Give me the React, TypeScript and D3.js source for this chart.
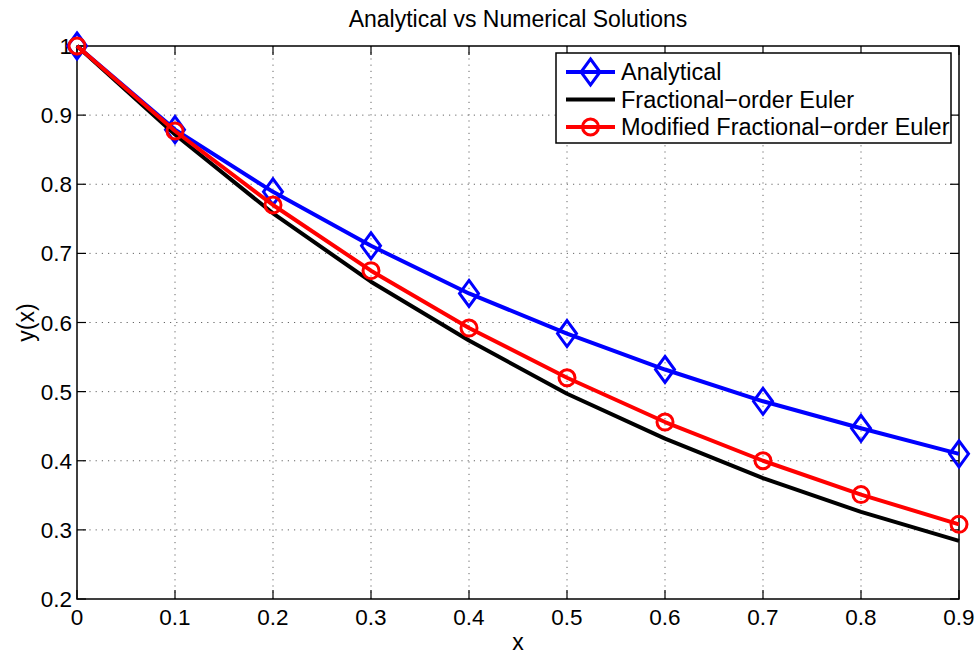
import React from 'react';
import * as d3 from 'd3';

// x positions of the solution samples
const xValues = [0, 0.1, 0.2, 0.3, 0.4, 0.5, 0.6, 0.7, 0.8, 0.9];
const analytical = [1.0, 0.879, 0.789, 0.711, 0.642, 0.584, 0.532, 0.486, 0.447, 0.41];
const fracEuler = [1.0, 0.872, 0.758, 0.659, 0.574, 0.497, 0.432, 0.375, 0.326, 0.284];
const modifiedEuler = [1.0, 0.877, 0.77, 0.675, 0.592, 0.52, 0.456, 0.4, 0.351, 0.308];

const xTicks = [0, 0.1, 0.2, 0.3, 0.4, 0.5, 0.6, 0.7, 0.8, 0.9];
const yTicks = [0.2, 0.3, 0.4, 0.5, 0.6, 0.7, 0.8, 0.9, 1];
const legendLabels = ['Analytical', 'Fractional\u2212order Euler', 'Modified Fractional\u2212order Euler'];

const W = 975;
const H = 655;
const margin = { top: 46, right: 16, bottom: 56, left: 77 };
const FONT = '"Liberation Sans", Arial, Helvetica, sans-serif';

const fmt = (v: number) => (v === 0 || v === 1 ? String(v) : v.toFixed(1));

export default function App() {
  const x = d3.scaleLinear().domain([0, 0.9]).range([margin.left, W - margin.right]);
  const y = d3.scaleLinear().domain([0.2, 1]).range([H - margin.bottom, margin.top]);
  const [x0, x1] = x.range();
  const [y0, y1] = y.range();

  const line = d3
    .line<number>()
    .x((_d, i) => x(xValues[i]))
    .y(d => y(d));

  const diamond = (cx: number, cy: number) =>
    `M${cx},${cy - 13}L${cx + 9.5},${cy}L${cx},${cy + 13}L${cx - 9.5},${cy}Z`;

  const tickLen = 9;

  return (
    <svg
      width={W}
      height={H}
      style={{ position: 'fixed', left: 0, top: 0, background: '#fff' }}
      fontFamily={FONT}
    >
      <rect x={0} y={0} width={W} height={H} fill="#fff" />

      {/* grid */}
      <g stroke="#666" strokeWidth={1} strokeDasharray="1.2,5">
        {xTicks.slice(1, -1).map(t => (
          <line key={'gx' + t} x1={x(t)} x2={x(t)} y1={y1} y2={y0} />
        ))}
        {yTicks.slice(1, -1).map(t => (
          <line key={'gy' + t} x1={x0} x2={x1} y1={y(t)} y2={y(t)} />
        ))}
      </g>

      {/* axes box and inward ticks */}
      <rect x={x0} y={y1} width={x1 - x0} height={y0 - y1} fill="none" stroke="#000" strokeWidth={1.5} />
      <g stroke="#000" strokeWidth={1.2}>
        {xTicks.map(t => (
          <g key={'tx' + t}>
            <line x1={x(t)} x2={x(t)} y1={y0} y2={y0 - tickLen} />
            <line x1={x(t)} x2={x(t)} y1={y1} y2={y1 + tickLen} />
          </g>
        ))}
        {yTicks.map(t => (
          <g key={'ty' + t}>
            <line x1={x0} x2={x0 + tickLen} y1={y(t)} y2={y(t)} />
            <line x1={x1} x2={x1 - tickLen} y1={y(t)} y2={y(t)} />
          </g>
        ))}
      </g>

      {/* tick labels */}
      <g fontSize={22.5} fill="#000">
        {xTicks.map(t => (
          <text key={'lx' + t} x={x(t)} y={y0 + 26} textAnchor="middle">
            {fmt(t)}
          </text>
        ))}
        {yTicks.map(t => (
          <text key={'ly' + t} x={x0 - 5} y={y(t) + 8} textAnchor="end">
            {fmt(t)}
          </text>
        ))}
      </g>

      {/* series */}
      <path d={line(analytical) || ''} fill="none" stroke="#0000ff" strokeWidth={4} strokeLinejoin="round" />
      {analytical.map((v, i) => (
        <path key={'a' + i} d={diamond(x(xValues[i]), y(v))} fill="none" stroke="#0000ff" strokeWidth={3} />
      ))}
      <path d={line(fracEuler) || ''} fill="none" stroke="#000" strokeWidth={4} strokeLinejoin="round" />
      <path d={line(modifiedEuler) || ''} fill="none" stroke="#ff0000" strokeWidth={4} strokeLinejoin="round" />
      {modifiedEuler.map((v, i) => (
        <circle key={'m' + i} cx={x(xValues[i])} cy={y(v)} r={8} fill="none" stroke="#ff0000" strokeWidth={3} />
      ))}

      {/* legend */}
      <g>
        <rect x={556} y={53} width={395} height={90} fill="#fff" stroke="#000" strokeWidth={1.5} />
        {legendLabels.map((label, i) => {
          const ly = 72 + i * 27.5;
          const color = i === 0 ? '#0000ff' : i === 1 ? '#000' : '#ff0000';
          return (
            <g key={label}>
              <line x1={566} x2={615} y1={ly} y2={ly} stroke={color} strokeWidth={4} />
              {i === 0 && <path d={diamond(590.5, ly)} fill="none" stroke={color} strokeWidth={3} />}
              {i === 2 && <circle cx={590.5} cy={ly} r={8} fill="none" stroke={color} strokeWidth={3} />}
              <text x={621} y={ly + 8} fontSize={23.5} fill="#000">
                {label}
              </text>
            </g>
          );
        })}
      </g>

      {/* titles */}
      <text x={(x0 + x1) / 2} y={27} textAnchor="middle" fontSize={23} fill="#000">
        Analytical vs Numerical Solutions
      </text>
      <text x={(x0 + x1) / 2} y={650} textAnchor="middle" fontSize={23} fill="#000">
        x
      </text>
      <text
        transform={`translate(34,${(y0 + y1) / 2}) rotate(-90)`}
        textAnchor="middle"
        fontSize={23}
        fill="#000"
      >
        y(x)
      </text>
    </svg>
  );
}
